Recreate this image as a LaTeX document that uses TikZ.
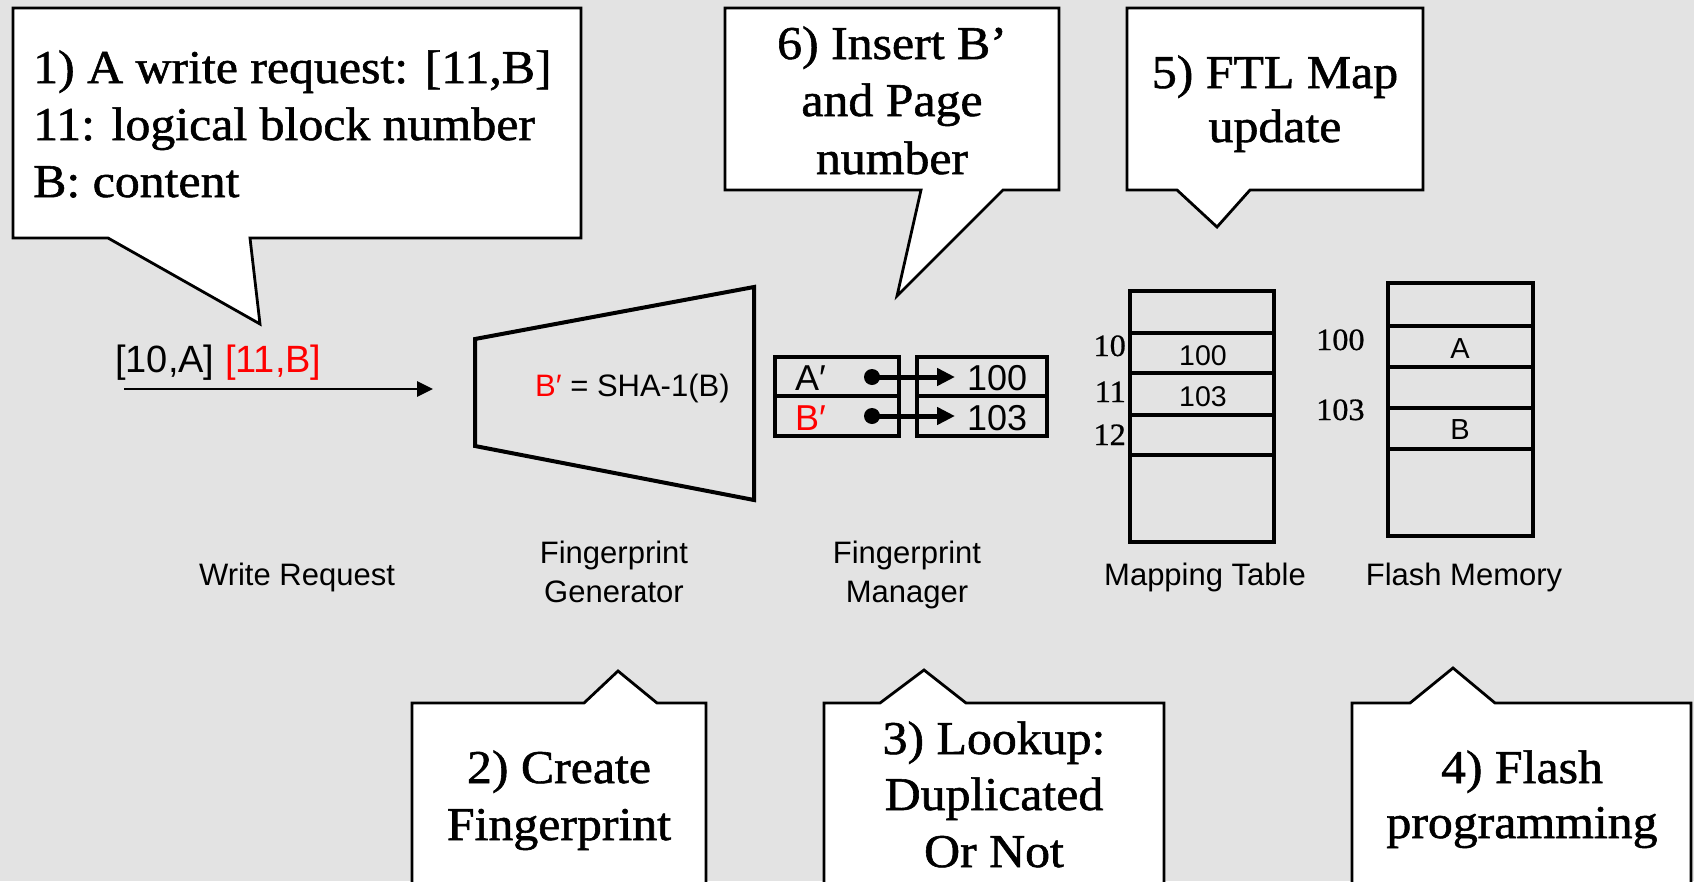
\documentclass[tikz,border=0pt]{standalone}
\usepackage{fontspec}
\setmainfont{Liberation Serif}
\setsansfont{Liberation Sans}
\newfontfamily\callfont[FakeStretch=1.06,FakeBold=1.2]{Liberation Serif}
\newfontfamily\numfont[FakeStretch=1.04,FakeBold=0.8]{Liberation Serif}
\usetikzlibrary{arrows.meta}

\definecolor{paper}{RGB}{227,227,227}
\definecolor{hot}{RGB}{255,0,0}

\tikzset{
  callout/.style={fill=white, draw=black, line width=2.8pt, line join=miter},
  calltext/.style={inner sep=0pt, font=\callfont\fontsize{47}{56}\selectfont},
  lbl/.style={inner sep=0pt, font=\sffamily\fontsize{31}{37}\selectfont},
  celltext/.style={inner sep=0pt, font=\sffamily\fontsize{36}{42}\selectfont},
  smallcell/.style={inner sep=0pt, font=\sffamily\fontsize{28.5}{34}\selectfont},
  letter/.style={inner sep=0pt, font=\sffamily\fontsize{29}{34}\selectfont},
  idx/.style={inner sep=0pt, font=\numfont\fontsize{31}{36}\selectfont},
  frame/.style={draw=black, line width=4pt, line join=miter},
  fpframe/.style={draw=black, line width=3.4pt, line join=miter},
  flow/.style={draw=black, line width=2.8pt, -{Triangle[length=16pt,width=15pt]}},
  ptr/.style={draw=black, line width=5pt, -{Triangle[length=18pt,width=17pt]}},
}

\begin{document}
\begin{tikzpicture}[x=1pt,y=-1pt]
% page and backdrop
\fill[paper] (0,0) rectangle (1694,881);
\useasboundingbox (0,0) rectangle (1694,881);
\clip (0,0) rectangle (1694,881);

% ---------- callouts on top ----------
\draw[callout] (13,8) -- (581,8) -- (581,238) -- (250,238) -- (260,324)
  -- (108,238) -- (13,238) -- cycle;
\node[calltext, anchor=base west] (c1a) at (33,83)  {1) A write request: [11,B]};
\node[calltext, anchor=base west] (c1b) at (33,140) {11: logical block number};
\node[calltext, anchor=base west] (c1c) at (33,197) {B: content};

\draw[callout] (725,8) -- (1059,8) -- (1059,190) -- (1003,190) -- (897,296)
  -- (921,190) -- (725,190) -- cycle;
\node[calltext, anchor=base] (c6a) at (892,59)  {6) Insert B’};
\node[calltext, anchor=base] (c6b) at (892,116) {and Page};
\node[calltext, anchor=base] (c6c) at (892,174) {number};

\draw[callout] (1127,8) -- (1423,8) -- (1423,190) -- (1250,190) -- (1217,227)
  -- (1177,190) -- (1127,190) -- cycle;
\node[calltext, anchor=base] (c5a) at (1275,88)  {5) FTL Map};
\node[calltext, anchor=base] (c5b) at (1275,142) {update};

% ---------- callouts at the bottom ----------
\draw[callout] (412,900) -- (412,703) -- (584,703) -- (618,671) -- (657,703)
  -- (706,703) -- (706,900);
\node[calltext, anchor=base] (c2a) at (559,783) {2) Create};
\node[calltext, anchor=base] (c2b) at (559,840) {Fingerprint};

\draw[callout] (824,900) -- (824,703) -- (880,703) -- (924,670) -- (966,703)
  -- (1164,703) -- (1164,900);
\node[calltext, anchor=base] (c3a) at (994,754) {3) Lookup:};
\node[calltext, anchor=base] (c3b) at (994,810) {Duplicated};
\node[calltext, anchor=base] (c3c) at (994,867) {Or Not};

\draw[callout] (1352,900) -- (1352,703) -- (1410,703) -- (1453,668) -- (1495,703)
  -- (1691,703) -- (1691,900);
\node[calltext, anchor=base] (c4a) at (1522,783) {4) Flash};
\node[calltext, anchor=base] (c4b) at (1522,838) {programming};

% ---------- write request ----------
\node[inner sep=0pt, anchor=base west, font=\sffamily\fontsize{38}{44}\selectfont]
  (req) at (115,372) {[10,A] \textcolor{hot}{[11,B]}};
\coordinate (reqstart) at (124,389);
\coordinate (reqend) at (433,389);
\draw[flow] (reqstart) -- (reqend);
\node[lbl, anchor=base] (wrlbl) at (297,585) {Write Request};

% ---------- fingerprint generator ----------
\draw[frame] (475,339) -- (754,287) -- (754,500) -- (475,446) -- cycle;
\node[inner sep=0pt, anchor=base west, font=\sffamily\fontsize{31}{37}\selectfont]
  (hash) at (535,396) {\textcolor{hot}{B′} = SHA-1(B)};
\node[lbl, anchor=base] (genl1) at (614,563) {Fingerprint};
\node[lbl, anchor=base] (genl2) at (614,602) {Generator};

% ---------- fingerprint manager ----------
\draw[fpframe] (775,357) rectangle (899,436);
\draw[fpframe] (775,396) -- (899,396);
\draw[fpframe] (917,357) rectangle (1047,436);
\draw[fpframe] (917,396) -- (1047,396);
\node[celltext, anchor=base west] (fpa) at (795,390) {A′};
\node[celltext, anchor=base west, text=hot] (fpb) at (795,430) {B′};
\node[celltext, anchor=base west] (pga) at (967,390) {100};
\node[celltext, anchor=base west] (pgb) at (967,430) {103};
\coordinate (dota) at (872,377);
\coordinate (dotb) at (872,416);
\coordinate (tipa) at (955,377);
\coordinate (tipb) at (955,416);
\fill (dota) circle (8);
\fill (dotb) circle (8);
\draw[ptr] (dota) -- (tipa);
\draw[ptr] (dotb) -- (tipb);
\node[lbl, anchor=base] (mgrl1) at (907,563) {Fingerprint};
\node[lbl, anchor=base] (mgrl2) at (907,602) {Manager};

% ---------- mapping table ----------
\draw[frame] (1130,291) rectangle (1274,542);
\foreach \yy in {333,373,415,455} \draw[frame] (1130,\yy) -- (1274,\yy);
\node[smallcell, anchor=base] (mt10) at (1203,365) {100};
\node[smallcell, anchor=base] (mt11) at (1203,406) {103};
\node[idx, anchor=base east] (lb10) at (1126,356) {10};
\node[idx, anchor=base east] (lb11) at (1126,402) {11};
\node[idx, anchor=base east] (lb12) at (1126,445) {12};
\node[lbl, anchor=base] (maplbl) at (1205,585) {Mapping Table};

% ---------- flash memory ----------
\draw[frame] (1388,283) rectangle (1533,536);
\foreach \yy in {326,367,408,449} \draw[frame] (1388,\yy) -- (1533,\yy);
\node[letter, anchor=base] (pgA) at (1460,358) {A};
\node[letter, anchor=base] (pgB) at (1460,439) {B};
\node[idx, anchor=base west] (fl100) at (1316,350) {100};
\node[idx, anchor=base west] (fl103) at (1316,420) {103};
\node[lbl, anchor=base] (flashlbl) at (1464,585) {Flash Memory};
\end{tikzpicture}
\end{document}
